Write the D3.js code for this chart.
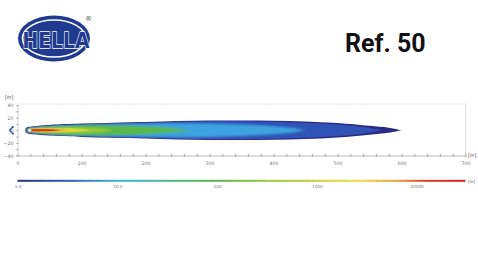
<!DOCTYPE html>
<html><head><meta charset="utf-8">
<script src="https://cdn.jsdelivr.net/npm/d3@7/dist/d3.min.js"></script>
<style>html,body{margin:0;padding:0;background:#fff;}svg{display:block;}</style>
</head><body>
<svg id="c" width="478" height="270"></svg>
<script>
// ---- data ----
const xTicks = [0,100,200,300,400,500,600,700];
const yTicks = [-40,-20,0,20,40];
const luxTicks = [1,10,100,1000,10000];
const luxTickLabels = ["1.0","10.0","100","1000","10000"];
// isolux contours: level (lx) and [distance m, half-width m]
const levels = [1, 2.5, 8, 100, 300, 1200, 5000, 20000];
const c1 = [[12,0],[13,3],[16,5],[25,6.5],[50,8.5],[100,10.5],[150,12],[200,13],[250,14.5],[300,15.5],[350,15.5],[400,15],[450,14],[500,11.5],[550,7],[580,4],[600,0]];
const c2 = [[13,0],[14.5,3],[20,4.8],[50,7.6],[100,9.6],[150,11],[200,12],[250,13.5],[300,14.3],[350,14.2],[400,13.5],[450,12],[500,9],[540,5],[570,0]];
const c3 = [[14,0],[15.5,2.8],[20,4.2],[50,7],[100,9],[150,10],[200,10.5],[250,11],[300,10.5],[350,9],[400,6.5],[430,3.5],[450,0]];
const c4 = [[15,0],[16.5,2.6],[20,3.8],[50,6.3],[100,8],[150,8],[200,6.5],[230,4.5],[255,2],[270,0]];
const c5 = [[15.5,0],[17,2.2],[20,3],[50,4.6],[90,4.8],[120,3.5],[140,1.5],[150,0]];
const c6 = [[16,0],[17.5,1.6],[20,2.2],[50,3],[80,3],[100,2],[115,0]];
const c7 = [[16.5,0],[20,1.7],[45,2.1],[65,1.8],[80,0]];
const c8 = [[17,0],[20,1.3],[40,1.6],[55,1.3],[68,0]];
const contours = [c1,c2,c3,c4,c5,c6,c7,c8];
// colour ramp stops (log10 lx -> colour)
const rampPos = [0, 0.5, 1.0, 1.5, 2.0, 2.5, 3.0, 3.4, 3.8, 4.1, 4.49];
const rampCol = ["#2d2a88","#2f5fc0","#41b2e6","#4dbb8e","#58b848","#9acb3a","#c8d63a","#f3df48","#f0a232","#e03c24","#d42020"];

// ---- drawing ----
const svg = d3.select("#c");
const x = d3.scaleLinear().domain([0,700]).range([17.5,465.5]);
const y = d3.scaleLinear().domain([-40,40]).range([155.5,105]);
const lx = d3.scaleLog().domain([1, Math.pow(10,4.49)]).range([17.5,465.5]);
const col = d3.scaleLinear().domain(rampPos).range(rampCol).interpolate(d3.interpolateRgb);
const colLux = v => col(Math.log10(v));

// header logo
const logo = svg.append("g");
logo.append("ellipse").attr("cx",54).attr("cy",38.5).attr("rx",36).attr("ry",23).attr("fill","#1f3a8e");
logo.append("ellipse").attr("cx",54).attr("cy",38.5).attr("rx",31.5).attr("ry",18.5).attr("fill","none").attr("stroke","#fff").attr("stroke-width",1.6);
logo.append("text").attr("x",22.5).attr("y",48).attr("textLength",67).attr("lengthAdjust","spacingAndGlyphs")
  .attr("font-family","DejaVu Sans").attr("font-weight","bold").attr("font-size",22)
  .attr("fill","#1f3a8e").attr("stroke","#fff").attr("stroke-width",1.3).attr("paint-order","stroke").text("HELLA");
logo.append("text").attr("x",85).attr("y",21).attr("font-family","DejaVu Sans").attr("font-size",7).attr("fill","#555").text("®");
svg.append("text").attr("x",345).attr("y",52).attr("font-family","Roboto").attr("font-weight","bold").attr("font-size",25).attr("fill","#111").text("Ref. 50");

// frame
const frame = svg.append("g");
frame.append("line").attr("x1",x(0)).attr("x2",x(700)).attr("y1",104).attr("y2",104).attr("stroke","#e2e2e2").attr("stroke-width",0.8);
frame.append("line").attr("x1",x(700)).attr("x2",x(700)).attr("y1",104).attr("y2",y(-40)).attr("stroke","#d8d8d8").attr("stroke-width",0.8);

// beam
const defs = svg.append("defs");
function blur(id, s){
  defs.append("filter").attr("id",id).attr("x","-5%").attr("y","-50%").attr("width","110%").attr("height","200%")
    .append("feGaussianBlur").attr("stdDeviation",s);
}
blur("bl",0.9); blur("bs",0.45);
const area = d3.area().x(d=>x(d[0])).y0(d=>y(-d[1])).y1(d=>y(d[1])).curve(d3.curveCatmullRom.alpha(0.5));
defs.append("clipPath").attr("id","cp").append("path").attr("d",area(c2));
const beam = svg.append("g");
beam.append("path").attr("d",area(c1)).attr("fill",colLux(levels[0]));
beam.append("path").attr("d",area(c2)).attr("fill",colLux(levels[1]));
const inner = beam.append("g").attr("clip-path","url(#cp)").append("g").attr("filter","url(#bl)");
contours.slice(2,5).forEach((c,i)=>{
  inner.append("path").attr("d",area(c)).attr("fill",colLux(levels[i+2]));
});
const core = beam.append("g").attr("filter","url(#bs)");
contours.slice(5).forEach((c,i)=>{
  core.append("path").attr("d",area(c)).attr("fill",colLux(levels[i+5]));
});
// hot spot near the source
beam.append("ellipse").attr("cx",x(19)).attr("cy",y(0)).attr("rx",1.6).attr("ry",1.4).attr("fill","#f4f4f4").attr("stroke","#aaa").attr("stroke-width",0.5);
// lamp symbol
beam.append("path").attr("d",`M${x(0)-5},${y(0)-3.2} L${x(0)-8},${y(0)} L${x(0)-5},${y(0)+3.2}`).attr("fill","none").attr("stroke","#2a5fb8").attr("stroke-width",1.4);
beam.append("circle").attr("cx",x(0)-4.5).attr("cy",y(0)-3.4).attr("r",0.9).attr("fill","#1f3a8e");
beam.append("circle").attr("cx",x(0)-4.5).attr("cy",y(0)+3.4).attr("r",0.9).attr("fill","#1f3a8e");

// axes
const fs = 4.8, tc = "#777";
const xa = svg.append("g").attr("transform",`translate(0,${y(-40)})`)
  .call(d3.axisBottom(x).tickValues(d3.range(0,701,20)).tickSize(1.5).tickFormat(""));
xa.select(".domain").attr("stroke","#aaa").attr("stroke-width",0.8);
xa.selectAll(".tick line").attr("stroke","#aaa").attr("y1",-1.5);
const xl = svg.append("g").attr("transform",`translate(0,${y(-40)})`)
  .call(d3.axisBottom(x).tickValues(xTicks).tickSize(0).tickPadding(6).tickFormat(d3.format("d")));
xl.select(".domain").remove();
xl.selectAll("text").attr("font-size",fs).attr("fill",tc).attr("font-family","DejaVu Sans");

const ya = svg.append("g").attr("transform",`translate(${x(0)},0)`)
  .call(d3.axisLeft(y).tickValues(d3.range(-40,41,10)).tickSize(1.5).tickFormat(""));
ya.select(".domain").attr("stroke","#bbb").attr("stroke-width",0.6);
ya.selectAll(".tick line").attr("stroke","#bbb").attr("x1",1.5);
const yl = svg.append("g").attr("transform",`translate(${x(0)},0)`)
  .call(d3.axisLeft(y).tickValues(yTicks).tickSize(0).tickPadding(4).tickFormat(d3.format("d")));
yl.select(".domain").remove();
yl.selectAll("text").attr("font-size",fs).attr("fill",tc).attr("font-family","DejaVu Sans");
svg.append("text").attr("x",5).attr("y",99).attr("font-size",fs).attr("fill","#555").attr("font-family","DejaVu Sans").text("[m]");
svg.append("text").attr("x",468).attr("y",157).attr("font-size",fs).attr("fill","#555").attr("font-family","DejaVu Sans").text("[m]");

// colour bar
const grad = defs.append("linearGradient").attr("id","g").attr("x1","0%").attr("x2","100%");
rampPos.forEach((p,i)=>grad.append("stop").attr("offset",(p/4.49*100)+"%").attr("stop-color",rampCol[i]));
svg.append("rect").attr("x",lx(1)).attr("y",179.8).attr("width",lx(Math.pow(10,4.49))-lx(1)).attr("height",2).attr("fill","url(#g)");
const minor = [];
for (let e=0;e<5;e++) for (let m=2;m<=9;m++){ const v=m*Math.pow(10,e); if (Math.log10(v)<=4.49) minor.push(v); }
svg.append("g").selectAll("line").data(minor).join("line")
  .attr("x1",d=>lx(d)).attr("x2",d=>lx(d)).attr("y1",180).attr("y2",182.5).attr("stroke","#999").attr("stroke-width",0.5).attr("opacity",0.6);
const la = svg.append("g").attr("transform","translate(0,181.8)")
  .call(d3.axisBottom(lx).tickValues(luxTicks).tickSize(0).tickPadding(3).tickFormat((d,i)=>luxTickLabels[i]));
la.select(".domain").remove();
la.selectAll("text").attr("font-size",fs-0.6).attr("fill",tc).attr("font-family","DejaVu Sans");
svg.append("text").attr("x",468).attr("y",182.5).attr("font-size",fs-0.6).attr("fill","#555").attr("font-family","DejaVu Sans").text("[lx]");
</script>
</body></html>
